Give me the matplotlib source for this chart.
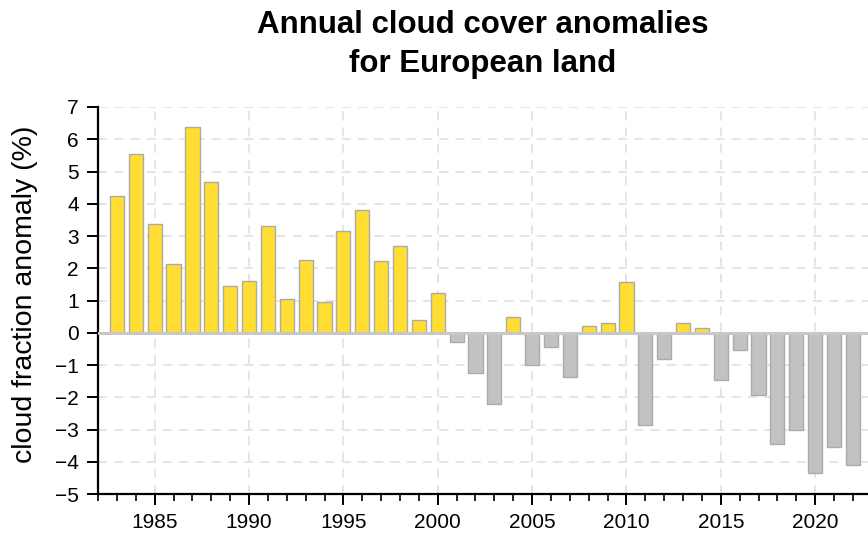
import matplotlib.pyplot as plt
import numpy as np
from matplotlib.ticker import MultipleLocator

plt.rcParams["font.family"] = ["Liberation Sans", "DejaVu Sans"]

# annual anomalies
years = list(range(1983, 2023))
anomaly = [
    4.25, 5.54, 3.37, 2.12, 6.37, 4.67, 1.44, 1.60, 3.30, 1.06,
    2.26, 0.96, 3.16, 3.82, 2.21, 2.69, 0.41, 1.24, -0.28, -1.25,
    -2.21, 0.49, -1.01, -0.45, -1.37, 0.21, 0.29, 1.57, -2.86, -0.82,
    0.29, 0.15, -1.48, -0.53, -1.93, -3.44, -3.01, -4.36, -3.53, -4.11,
]

pos_color = "#FFDD33"
neg_color = "#C2C2C2"

fig = plt.figure(figsize=(8.68, 5.35), dpi=100)
ax = fig.add_axes([0.113, 0.0766, 0.887, 0.7234])

vals = np.array(anomaly)
colors = [pos_color if v >= 0 else neg_color for v in vals]
ax.bar(years, vals, width=0.75, color=colors, edgecolor="#ABABAB", linewidth=1.0, zorder=3)
ax.axhline(0, color="#C8C8C8", linewidth=2.2, zorder=4)

ax.set_xlim(1982, 2022.8)
ax.set_ylim(-5, 7)
ax.xaxis.set_major_locator(MultipleLocator(5))
ax.xaxis.set_minor_locator(MultipleLocator(1))
ax.yaxis.set_major_locator(MultipleLocator(1))

ax.grid(True, which="major", color="#E3E3E3", linestyle=(0, (5, 4)), linewidth=1.3, zorder=0)

for s in ["top", "right"]:
    ax.spines[s].set_visible(False)
for s in ["left", "bottom"]:
    ax.spines[s].set_linewidth(1.6)

ax.tick_params(axis="both", which="major", direction="out", length=8, width=1.4, labelsize=15, color="black")
ax.tick_params(axis="x", which="major", pad=6)
ax.tick_params(axis="y", which="major", pad=6)
ax.tick_params(axis="x", which="minor", direction="out", length=5, width=1.2)
ax.set_yticklabels([f"{int(t)}".replace("-", "\u2212") for t in ax.get_yticks()])

ax.set_ylabel("cloud fraction anomaly (%)", fontsize=20.5)
ax.yaxis.set_label_coords(-0.078, 0.515)

# title is centred over the plotting area, not the whole figure
fig.text(0.5565, 0.982, "Annual cloud cover anomalies\nfor European land", ha="center", va="top",
         fontsize=22.5, fontweight="bold", linespacing=1.4)

fig.savefig("out.png", dpi=100)
